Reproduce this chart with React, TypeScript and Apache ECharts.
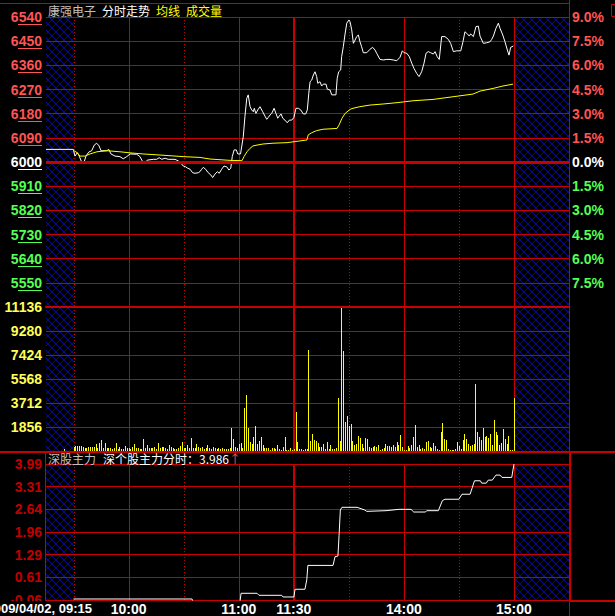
import React, { useEffect, useRef } from 'react';
import * as echarts from 'echarts';

// ---------- data (time = minutes since 09:15; 09:30 = 15, 11:30/13:00 = 135, 15:00 = 255) ----------
const stockName = '康强电子';
const dateLabel = '2009/04/02, 09:15';
const prevClose = 6000;
const sessionEnd = 285; // 15:30, right edge of the chart
const priceTicks = [5460, 5550, 5640, 5730, 5820, 5910, 6000, 6090, 6180, 6270, 6360, 6450, 6540];
const volumeMax = 11136;
const volumeStep = 1856;
const indicatorMin = -0.06;
const indicatorMax = 3.99;
const indicatorTickLabels = ['-0.06', '0.61', '1.29', '1.96', '2.64', '3.31', '3.99'];
const indicatorValue = '3.986';
const timeTickT = [45, 105, 135, 195, 255];
const timeTickLabels = ['10:00', '11:00', '11:30', '14:00', '15:00'];
const gridLineT = [15, 45, 75, 105, 135, 165, 195, 225, 255];
const gridLineKind = ['dot', 'solid', 'dot', 'solid', 'thick', 'dot', 'solid', 'dot', 'solid'];
const shadedRanges = [[0, 15], [255, 285]];

const pricePoints = [
  [0, 6047], [14.9, 6047], [15.8, 6022], [17.1, 6035], [18.1, 6022], [19.5, 5999], [20.7, 5999], [21.8, 6022], [23.3, 6037], [24.9, 6042],
  [26.3, 6063], [27.6, 6070], [28.9, 6060], [30.0, 6042], [33.1, 6042], [34.2, 6047], [35.4, 6030], [37.6, 6022], [40.3, 6020], [42.1, 6012],
  [44.0, 6020], [45.8, 6030], [49.4, 6029], [51.2, 6020], [52.7, 6001], [54.3, 5999], [55.2, 6007], [58.5, 6010], [60.3, 6010], [61.7, 6016],
  [63.1, 6010], [64.9, 6014], [66.6, 6010], [70.3, 6010], [72.1, 6004], [73.6, 5995], [74.8, 5985], [76.1, 5982], [77.2, 5977], [78.5, 5973],
  [79.9, 5960], [81.2, 5958], [83.0, 5960], [83.9, 5964], [84.8, 5973], [85.7, 5980], [87.0, 5973], [88.4, 5960], [89.8, 5952], [90.8, 5942],
  [92.1, 5955], [93.4, 5964], [94.4, 5958], [95.7, 5973], [97.0, 5985], [98.5, 5982], [99.7, 5970], [100.7, 5977], [101.5, 6020], [102.5, 6045],
  [103.7, 6045], [104.5, 6030], [106.0, 6030], [107.5, 6094], [108.4, 6169], [109.4, 6237], [110.2, 6250], [111.2, 6206], [112.1, 6194], [113.0, 6187],
  [113.5, 6200], [114.4, 6181], [115.4, 6194], [116.6, 6206], [118.1, 6187], [119.3, 6171], [120.3, 6159], [121.1, 6166], [122.1, 6175], [123.0, 6181],
  [124.3, 6200], [125.3, 6181], [126.3, 6163], [127.1, 6171], [128.1, 6179], [129.0, 6163], [130.2, 6156], [131.5, 6146], [132.6, 6156], [133.9, 6156],
  [135.1, 6166], [136.2, 6200], [137.5, 6200], [138.8, 6194], [140.2, 6179], [141.5, 6179], [142.4, 6194], [143.2, 6256], [143.9, 6299], [144.8, 6305],
  [145.7, 6324], [146.6, 6336], [147.5, 6318], [148.1, 6293], [149.3, 6299], [150.2, 6283], [151.1, 6290], [152.6, 6290], [153.3, 6271], [154.8, 6268],
  [155.7, 6250], [158.0, 6250], [158.7, 6312], [159.5, 6336], [160.6, 6343], [161.1, 6392], [162.0, 6429], [162.9, 6473], [163.9, 6517], [165.1, 6529],
  [165.7, 6522], [166.6, 6492], [167.5, 6442], [168.4, 6454], [169.3, 6467], [170.2, 6473], [171.1, 6448], [172.0, 6429], [172.9, 6407], [174.8, 6407],
  [176.6, 6420], [178.0, 6427], [179.3, 6417], [180.2, 6405], [182.0, 6382], [183.8, 6380], [185.7, 6382], [187.5, 6382], [189.3, 6380], [191.1, 6377],
  [192.9, 6390], [194.2, 6414], [195.1, 6407], [196.6, 6405], [198.0, 6392], [199.3, 6368], [200.5, 6349], [202.0, 6330], [203.3, 6318], [204.7, 6336],
  [206.0, 6368], [207.1, 6405], [208.3, 6411], [209.6, 6407], [211.1, 6402], [212.0, 6411], [213.2, 6392], [214.3, 6382], [215.6, 6467], [217.4, 6467],
  [219.2, 6457], [220.5, 6442], [222.0, 6411], [223.8, 6414], [226.0, 6414], [227.1, 6444], [228.3, 6485], [229.3, 6479], [230.7, 6469], [231.4, 6477],
  [232.9, 6467], [234.3, 6504], [235.6, 6506], [236.5, 6469], [238.3, 6442], [240.2, 6444], [242.0, 6448], [242.9, 6457], [243.8, 6469], [245.2, 6498],
  [246.5, 6517], [247.4, 6498], [248.9, 6473], [250.1, 6448], [251.4, 6417], [252.3, 6398], [253.2, 6427], [254.7, 6432]
];

const averagePoints = [
  [15.3, 6042], [16.9, 6035], [18.5, 6022], [21.3, 6022], [24.0, 6030], [27.8, 6038], [33.2, 6042], [40.3, 6038], [45.8, 6034], [52.9, 6030],
  [62.1, 6026], [74.7, 6020], [83.9, 6017], [89.4, 6011], [100.3, 6006], [106.8, 6005], [107.9, 6020], [109.5, 6038], [111.2, 6051], [112.8, 6060],
  [115.0, 6063], [118.3, 6067], [123.7, 6070], [131.3, 6072], [135.7, 6076], [142.2, 6082], [142.9, 6101], [144.8, 6109], [147.5, 6117], [151.0, 6122],
  [158.6, 6125], [159.7, 6138], [161.3, 6163], [163.0, 6181], [165.7, 6196], [167.3, 6200], [171.1, 6206], [176.6, 6212], [183.7, 6216], [191.3, 6221],
  [200.0, 6228], [210.9, 6233], [221.8, 6243], [232.7, 6253], [236.5, 6264], [243.6, 6274], [249.0, 6283], [254.5, 6290]
];

const auctionT = 10; // 09:25 call auction
const auctionVolume = 180;
const volumeStartT = 15; // first minute bar: 09:30
const volumes = [
  335, 387, 387, 387, 387, 309, 258, 258, 309, 309,
  335, 335, 515, 258, 644, 851, 258, 593, 258, 258,
  258, 180, 258, 593, 180, 335, 180, 180, 387, 258,
  258, 180, 335, 515, 258, 258, 180, 180, 954, 258,
  438, 258, 258, 258, 335, 180, 593, 258, 335, 335,
  258, 180, 464, 335, 258, 180, 180, 258, 387, 722,
  258, 258, 438, 258, 1031, 258, 258, 515, 335,
  258, 335, 180, 258, 440, 258, 180, 335, 258, 180, 258, 180,
  258, 180, 120, 150, 258, 1804, 954, 309, 206, 515,
  644, 258, 3351, 4330, 1804, 696, 515, 1083, 1933, 567,
  773, 1083, 464, 258, 258, 258, 100, 258, 258, 129,
  464, 129, 80, 309, 1083, 100, 100, 258, 80, 150,
  3042, 696, 129, 129, 80, 180, 129, 7810, 773, 1340,
  851, 773, 644, 335, 335, 567, 129, 696, 129, 464,
  129, 129, 258, 4124, 773, 11136, 7733, 2243, 2707, 1933,
  2062, 773, 464, 515, 1160, 1031, 567, 258, 1031, 954,
  309, 258, 309, 387, 309, 464, 100, 180, 258, 567,
  387, 387, 335, 464, 309, 696, 464, 1237, 335, 100,
  80, 387, 258, 464, 1108, 2010, 335, 464, 129, 206,
  129, 696, 773, 309, 206, 644, 360, 129, 100, 1469,
  2139, 902, 851, 129, 52, 80, 80, 129, 696, 387,
  129, 825, 1289, 928, 515, 360, 438, 567, 5207, 1469,
  1083, 825, 1804, 1108, 1160, 979, 1289, 464, 2397, 1469,
  1211, 464, 644, 1727, 902, 567, 1160, 100, 100, 4124
];

const indicatorPoints = [
  [15, -0.03], [79.6, -0.03], [80.5, -0.2], [105.5, -0.2], [106.3, 0.14], [115, 0.14], [116.1, 0.08], [128.4, 0.08], [129.2, 0.03], [135.1, 0.03],
  [135.7, 0.26], [141.1, 0.26], [142.1, 0.54], [142.7, 0.97], [156.4, 0.97], [157.5, 1.23], [159.1, 1.25], [159.7, 1.87], [160.4, 2.62], [161.3, 2.70],
  [169.5, 2.70], [173.7, 2.62], [174.8, 2.58], [185.3, 2.60], [192.4, 2.64], [198.9, 2.64], [200.4, 2.56], [206.8, 2.56], [207.5, 2.60], [213.8, 2.60],
  [216, 2.90], [217.4, 2.94], [225, 2.94], [226.7, 3.09], [231.1, 3.09], [233.5, 3.49], [236.7, 3.49], [237.4, 3.42], [239.9, 3.42], [241, 3.51],
  [243.2, 3.51], [245.2, 3.66], [247.4, 3.66], [248.5, 3.59], [253.8, 3.59], [255, 3.986]
];

// ---------- styles ----------
const RED = '#c80000';
const UP = '#ff5454';
const DOWN = '#54ff54';
const FLAT = '#ffffff';
const YELLOW = '#ffff00';
const LABEL_YELLOW = '#ffff54';
const DARK_RED = '#c00000';
const HATCH = '#0a0a96';
const NUM_FONT = { fontFamily: '"Liberation Sans", Arial, sans-serif', fontWeight: 'bold' as const, fontSize: 14 };
const CJK = '"Noto Sans CJK SC", sans-serif';

const priceColor = (p: number) => (p > prevClose ? UP : p < prevClose ? DOWN : FLAT);

function renderHatch(params: any, api: any) {
  const cs = params.coordSys;
  const yRef = api.value(2);
  const xa = Math.round(api.coord([api.value(0), yRef])[0]);
  const xb = Math.round(api.coord([api.value(1), yRef])[0]);
  const y0 = cs.y;
  const y1 = cs.y + cs.height;
  const d = 8;
  const children: any[] = [];
  const style = { stroke: HATCH, lineWidth: 1 };
  for (let c = Math.floor((xa - y1) / d) * d; c <= xb - y0; c += d) {
    const lo = Math.max(y0, xa - c);
    const hi = Math.min(y1, xb - c);
    if (hi > lo) children.push({ type: 'line', shape: { x1: lo + c, y1: lo, x2: hi + c, y2: hi }, style });
  }
  for (let c = Math.floor((xa + y0) / d) * d; c <= xb + y1; c += d) {
    const lo = Math.max(y0, c - xb);
    const hi = Math.min(y1, c - xa);
    if (hi > lo) children.push({ type: 'line', shape: { x1: c - lo, y1: lo, x2: c - hi, y2: hi }, style });
  }
  return { type: 'group', children, silent: true };
}

function renderVLine(params: any, api: any) {
  const cs = params.coordSys;
  const x = api.coord([api.value(0), api.value(1)])[0];
  const kind = gridLineKind[params.dataIndex];
  const thick = kind === 'thick';
  const xr = thick ? Math.round(x) : Math.round(x) + 0.5;
  return {
    type: 'line',
    silent: true,
    shape: { x1: xr, y1: cs.y, x2: xr, y2: cs.y + cs.height },
    style: { stroke: RED, lineWidth: thick ? 2 : 1, lineDash: kind === 'dot' ? [1, 2] : null },
  };
}

function renderVolumeBar(params: any, api: any) {
  const top = api.coord([api.value(0), api.value(1)]);
  const base = api.coord([api.value(0), 0]);
  const x = Math.round(top[0]);
  const yTop = Math.round(top[1]);
  return {
    type: 'rect',
    silent: true,
    shape: { x, y: yTop, width: 1, height: Math.round(base[1]) - yTop },
    style: { fill: YELLOW },
  };
}

function renderUnderline(params: any, api: any) {
  const cs = params.coordSys;
  const k = Math.round(api.value(1));
  const y = Math.round(api.coord([0, k])[1] + 7) + 0.5;
  return {
    type: 'line',
    silent: true,
    shape: { x1: cs.x - 28, y1: y, x2: cs.x - 4, y2: y },
    style: { stroke: priceColor(priceTicks[k]), lineWidth: 1 },
  };
}

function buildOption() {
  const grids = [
    { left: 46, top: 17, width: 523, height: 290 },
    { left: 46, top: 307, width: 523, height: 144 },
    { left: 46, top: 464, width: 523, height: 136 },
  ];
  const xAxis = [0, 1, 2].map((g) => ({
    type: 'value',
    gridIndex: g,
    min: 0,
    max: sessionEnd,
    interval: 15,
    splitLine: { show: false },
    axisTick: { show: false },
    axisLine: g === 0 ? { show: true, onZero: false, lineStyle: { color: RED, width: 2 } } : { show: false },
    axisLabel:
      g === 2
        ? {
            show: true,
            margin: 2,
            color: '#ffffff',
            ...NUM_FONT,
            formatter: (v: number) => {
              const i = timeTickT.indexOf(Math.round(v));
              return i >= 0 ? timeTickLabels[i] : '';
            },
          }
        : { show: false },
    z: 3,
  }));
  const splitLine = { show: true, lineStyle: { color: RED, width: 1 } };
  const nTicks = priceTicks.length - 1;
  const yAxis = [
    { type: 'value', gridIndex: 0, min: priceTicks[0], max: priceTicks[nTicks], show: false },
    {
      type: 'value', gridIndex: 0, min: 0, max: nTicks, interval: 1, position: 'left', z: 2,
      axisLine: { show: false }, axisTick: { show: false }, splitLine,
      axisLabel: {
        margin: 4, ...NUM_FONT,
        formatter: (v: number) => (Math.round(v) === 0 ? '' : String(priceTicks[Math.round(v)])),
        color: (v: any) => priceColor(priceTicks[Math.round(Number(v))]),
      },
    },
    {
      type: 'value', gridIndex: 0, min: 0, max: nTicks, interval: 1, position: 'right', z: 2,
      axisLine: { show: false }, axisTick: { show: false }, splitLine: { show: false },
      axisLabel: {
        margin: 3, ...NUM_FONT,
        formatter: (v: number) => {
          const k = Math.round(v);
          if (k === 0) return '';
          return Math.abs(((priceTicks[k] - prevClose) / prevClose) * 100).toFixed(1) + '%';
        },
        color: (v: any) => priceColor(priceTicks[Math.round(Number(v))]),
      },
    },
    {
      type: 'value', gridIndex: 1, min: 0, max: volumeMax, interval: volumeStep, position: 'left', z: 2,
      axisLine: { show: false }, axisTick: { show: false }, splitLine,
      axisLabel: { margin: 4, ...NUM_FONT, color: LABEL_YELLOW, formatter: (v: number) => (v === 0 ? '' : String(v)) },
    },
    { type: 'value', gridIndex: 2, min: indicatorMin, max: indicatorMax, show: false },
    {
      type: 'value', gridIndex: 2, min: 0, max: indicatorTickLabels.length - 1, interval: 1, position: 'left', z: 2,
      axisLine: { show: false }, axisTick: { show: false }, splitLine,
      axisLabel: { margin: 4, ...NUM_FONT, color: DARK_RED, formatter: (v: number) => indicatorTickLabels[Math.round(v)] },
    },
  ];

  const hatchSeries = [
    { x: 0, y: 0, ref: priceTicks[0] },
    { x: 1, y: 3, ref: 0 },
    { x: 2, y: 4, ref: indicatorMin },
  ].map((a) => ({
    type: 'custom',
    xAxisIndex: a.x,
    yAxisIndex: a.y,
    z: 1,
    silent: true,
    renderItem: renderHatch,
    encode: { x: [0, 1], y: 2 },
    data: shadedRanges.map((r) => [r[0], r[1], a.ref]),
  }));

  const vlineSeries = [
    { x: 0, y: 0, ref: priceTicks[0] },
    { x: 1, y: 3, ref: 0 },
    { x: 2, y: 4, ref: indicatorMin },
  ].map((a, i) => ({
    type: 'custom',
    xAxisIndex: a.x,
    yAxisIndex: a.y,
    z: 2,
    silent: true,
    renderItem: renderVLine,
    encode: { x: 0, y: 1 },
    data: gridLineT.map((t) => [t, a.ref]),
    markLine:
      i === 0
        ? {
            silent: true,
            symbol: 'none',
            label: { show: false },
            data: [{ yAxis: prevClose, lineStyle: { color: RED, width: 3, type: 'solid' } }],
          }
        : undefined,
  }));

  const series: any[] = [
    ...hatchSeries,
    ...vlineSeries,
    {
      type: 'custom',
      xAxisIndex: 0,
      yAxisIndex: 1,
      z: 2,
      silent: true,
      clip: false,
      renderItem: renderUnderline,
      encode: { x: 0, y: 1 },
      data: priceTicks.map((_, k) => [0, k]).filter((d) => d[1] > 0),
    },
    {
      type: 'custom',
      xAxisIndex: 1,
      yAxisIndex: 3,
      z: 3,
      silent: true,
      renderItem: renderVolumeBar,
      encode: { x: 0, y: 1 },
      data: [[auctionT, auctionVolume], ...volumes.map((v, i) => [volumeStartT + i, v])],
    },
    {
      type: 'line',
      xAxisIndex: 0,
      yAxisIndex: 0,
      z: 4,
      symbol: 'none',
      lineStyle: { color: '#ffffff', width: 1 },
      data: pricePoints,
    },
    {
      type: 'line',
      xAxisIndex: 0,
      yAxisIndex: 0,
      z: 4,
      symbol: 'none',
      lineStyle: { color: YELLOW, width: 1 },
      data: averagePoints,
    },
    {
      type: 'line',
      xAxisIndex: 2,
      yAxisIndex: 4,
      z: 4,
      symbol: 'none',
      clip: true,
      lineStyle: { color: '#ffffff', width: 1 },
      data: indicatorPoints,
    },
  ];

  const txt = (x: number, y: number, text: string, fill: string, font: string, align = 'left', z = 20) => ({
    type: 'text',
    x,
    y,
    z,
    silent: true,
    style: { text, fill, font, textAlign: align, textVerticalAlign: 'middle' },
  });
  const ln = (x1: number, y1: number, x2: number, y2: number, w = 1, z = 5) => ({
    type: 'line',
    z,
    silent: true,
    shape: { x1, y1, x2, y2 },
    style: { stroke: RED, lineWidth: w },
  });
  const cjk12 = `12px ${CJK}`;
  const dateFont = `bold 13px "Liberation Sans", Arial, sans-serif`;

  const graphic = [
    ln(0, 3.5, 569, 3.5),
    ln(569.5, 0, 569.5, 616),
    ln(0, 452, 615, 452, 2),
    ln(570, 452, 570, 601, 2),
    ln(569, 601, 615, 601, 2),
    ln(45.5, 452, 45.5, 601),
    { type: 'rect', z: 50, silent: true, shape: { x: 0, y: 601, width: 46, height: 15 }, style: { fill: '#000000' } },
    { type: 'rect', z: 5, silent: true, shape: { x: 611.5, y: 4.5, width: 8, height: 12 }, style: { fill: 'none', stroke: RED, lineWidth: 1 } },
    txt(48, 10, stockName, '#c0c0c0', cjk12),
    txt(102, 10, '分时走势', '#ffffff', cjk12),
    txt(156, 10, '均线', YELLOW, cjk12),
    txt(186, 10, '成交量', YELLOW, cjk12),
    txt(48, 458, '深股主力', '#c0c0c0', cjk12),
    txt(103, 458, '深个股主力分时：' + indicatorValue, '#ffffff', cjk12),
    txt(229, 458, '↑', UP, cjk12),
    txt(92, 608, dateLabel, '#ffffff', dateFont, 'right', 51),
  ];

  return {
    animation: false,
    backgroundColor: '#000000',
    grid: grids,
    xAxis,
    yAxis,
    series,
    graphic: { elements: graphic },
  };
}

export default function App() {
  const ref = useRef<HTMLDivElement>(null);
  useEffect(() => {
    const chart = echarts.init(ref.current!, null, { renderer: 'svg' });
    chart.setOption(buildOption() as any);
    return () => chart.dispose();
  }, []);
  return (
    <div
      ref={ref}
      style={{ position: 'fixed', left: 0, top: 0, width: 615, height: 616, background: '#000000' }}
    />
  );
}
